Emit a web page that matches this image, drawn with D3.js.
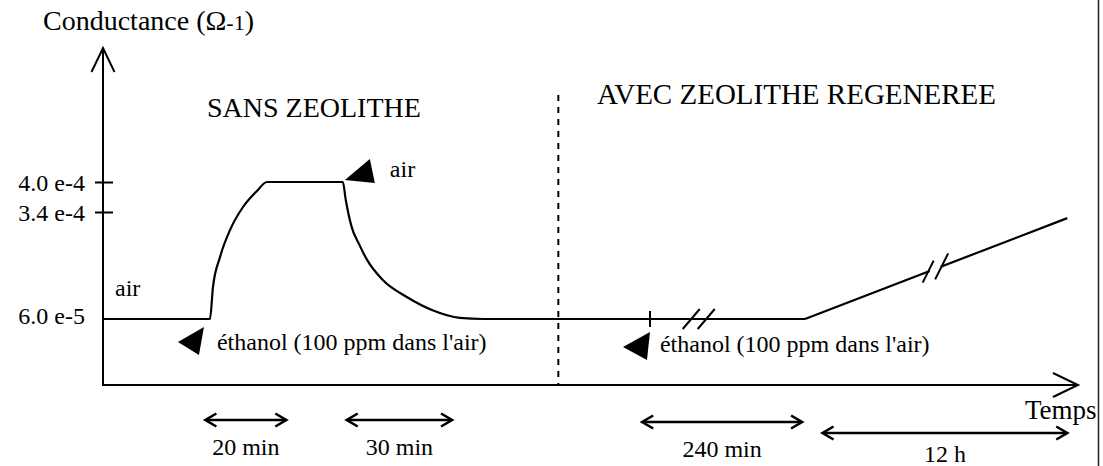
<!DOCTYPE html>
<html><head><meta charset="utf-8">
<script src="https://cdn.jsdelivr.net/npm/d3@7"></script>
<style>
html,body{margin:0;padding:0;background:#fff;}
svg{display:block;}
</style>
</head><body>
<svg id="c" width="1103" height="466"></svg>
<script>
// ---------- data ----------
// y ticks (conductance, ohm^-1)
const yTickValues = [4.0e-4, 3.4e-4, 6.0e-5];
const yTickLabels = ["4.0 e-4", "3.4 e-4", "6.0 e-5"];
// measured trace, schematic time units (0-100, axis has breaks)
const traceTime = [0, 10.97, 11.28, 12.0, 13.03, 14.36, 15.79, 16.82, 24.6, 24.9, 25.5, 26.3, 27.1, 28.7, 31.2, 33.8, 36.6, 39.0, 56.1, 72.0];
const traceG    = [6e-5, 6e-5, 1.44e-4, 2.22e-4, 2.93e-4, 3.5e-4, 3.82e-4, 4.0e-4, 4.0e-4, 3.64e-4, 3.01e-4, 2.54e-4, 2.14e-4, 1.62e-4, 1.17e-4, 0.83e-4, 0.63e-4, 6e-5, 6e-5, 6e-5];
// slow rise with regenerated zeolite
const rampTime = [72.0, 98.9];
const rampG    = [6e-5, 3.24e-4];
// events
const separatorTime = 46.7;          // sans / avec zeolithe
const ethanolTimes = [10.97, 56.1];  // ethanol injections
const airTime = 24.6;                // back to air
const breakFlatTime = 61.1;          // axis break on flat line
const breakRampTime = 85.3;          // axis break on ramp
// duration markers
const periodLabels = ["20 min", "30 min", "240 min", "12 h"];
const periodStart  = [10.5, 25.0, 55.3, 73.8];
const periodEnd    = [18.8, 35.8, 71.7, 98.9];

// ---------- scales ----------
const FONT = "'Liberation Serif', 'Times New Roman', Times, serif";
const svg = d3.select("#c");
const x = d3.scaleLinear().domain([0, 100]).range([103, 1078]);
// schematic (non-linear) conductance axis
const y = d3.scaleLinear().domain([0, 6e-5, 3.4e-4, 4e-4, 7e-4]).range([385, 319, 212, 182, 48]);

const ink = "#000";
const g = svg.append("g");
function txt(xx, yy, size, s) {
  return g.append("text").attr("x", xx).attr("y", yy)
    .style("font-family", FONT).style("font-size", size + "px").style("fill", ink).text(s);
}

// right scan border
g.append("line").attr("x1", 1098.5).attr("x2", 1098.5).attr("y1", 0).attr("y2", 466)
  .attr("stroke", "#222").attr("stroke-width", 1.5);

// ---------- axes ----------
const yAxis = d3.axisLeft(y).tickValues(yTickValues)
  .tickFormat((d, i) => yTickLabels[i]).tickSizeOuter(0).tickSizeInner(8).tickPadding(10);
const ya = g.append("g").attr("transform", `translate(${x(0)},0)`).call(yAxis);
ya.select(".domain").remove();
ya.selectAll(".tick line").attr("x1", 10).attr("stroke", ink).attr("stroke-width", 2)
  .filter(d => d === 6e-5).remove();
ya.selectAll(".tick text").style("font-family", FONT)
  .style("font-size", "24px").style("fill", ink)
  .attr("dy", d => d === 6e-5 ? "0.2em" : "0.34em");

// axis lines with open arrow heads
const x0 = x(0), yb = y(0), yt = y(7e-4), xr = x(100);
g.append("line").attr("x1", x0).attr("x2", x0).attr("y1", yb + 1).attr("y2", yt)
  .attr("stroke", ink).attr("stroke-width", 2);
g.append("path").attr("d", `M${x0 - 11.5},${yt + 24}L${x0},${yt}L${x0 + 11.5},${yt + 24}`)
  .attr("fill", "none").attr("stroke", ink).attr("stroke-width", 2);
g.append("line").attr("x1", x0).attr("x2", xr).attr("y1", yb).attr("y2", yb)
  .attr("stroke", ink).attr("stroke-width", 2.2);
g.append("path").attr("d", `M${xr - 25},${yb - 12}L${xr},${yb}L${xr - 25},${yb + 12}`)
  .attr("fill", "none").attr("stroke", ink).attr("stroke-width", 2);

// axis titles
const ct = txt(43, 30, 28, null);
ct.append("tspan").text("Conductance (\u03A9");
ct.append("tspan").style("font-size", "22px").text("-1");
ct.append("tspan").text(")");
txt(1025, 419, 27, "Temps");

// ---------- separator ----------
g.append("line").attr("x1", x(separatorTime)).attr("x2", x(separatorTime))
  .attr("y1", 95).attr("y2", yb).attr("stroke", ink).attr("stroke-width", 2)
  .attr("stroke-dasharray", "6,6");
txt(207, 117, 28, "SANS ZEOLITHE");
txt(597, 104, 29, "AVEC ZEOLITHE REGENEREE");

// ---------- trace ----------
const line = d3.line().x(d => x(d[0])).y(d => y(d[1])).curve(d3.curveMonotoneX);
g.append("path").datum(d3.zip(traceTime, traceG)).attr("d", line)
  .attr("fill", "none").attr("stroke", ink).attr("stroke-width", 2.2);
const ramp = d3.zip(rampTime, rampG);
g.append("path").datum(ramp).attr("d", d3.line().x(d => x(d[0])).y(d => y(d[1])))
  .attr("fill", "none").attr("stroke", ink).attr("stroke-width", 2.2);

// tick on flat line at second ethanol injection
g.append("line").attr("x1", x(ethanolTimes[1])).attr("x2", x(ethanolTimes[1]))
  .attr("y1", y(6e-5) - 8).attr("y2", y(6e-5) + 8).attr("stroke", ink).attr("stroke-width", 2);

// breaks
function slash(cx, cy, hx, hy) {
  g.append("line").attr("x1", cx - hx).attr("y1", cy + hy).attr("x2", cx + hx).attr("y2", cy - hy)
    .attr("stroke", ink).attr("stroke-width", 2);
}
const bfx = x(breakFlatTime), bfy = y(6e-5);
slash(bfx - 7.5, bfy, 8.5, 10);
slash(bfx + 7.5, bfy, 8.5, 10);
// ramp break (gap + slashes)
const rampAt = t => {
  const f = (t - rampTime[0]) / (rampTime[1] - rampTime[0]);
  return rampG[0] + f * (rampG[1] - rampG[0]);
};
const brx = x(breakRampTime);
const gx1 = brx - 5, gx2 = brx + 6;
g.append("line").attr("x1", gx1).attr("x2", gx2)
  .attr("y1", y(rampAt(x.invert(gx1)))).attr("y2", y(rampAt(x.invert(gx2))))
  .attr("stroke", "#fff").attr("stroke-width", 5);
slash(brx - 6.5, y(rampAt(x.invert(brx - 6.5))), 5.5, 11);
slash(brx + 7, y(rampAt(x.invert(brx + 7))), 6.5, 13);

// ---------- annotations ----------
function tri(tx, ty, pts) {
  g.append("path").attr("d", "M" + pts.map(p => [tx + p[0], ty + p[1]].join(",")).join("L") + "Z")
    .attr("fill", ink);
}
const e1x = x(ethanolTimes[0]), e1y = y(6e-5);
tri(e1x - 32, e1y + 23, [[0, 0], [26, -15], [21, 13]]);
txt(e1x + 7, e1y + 31, 24, "éthanol (100 ppm dans l'air)");
const e2x = x(ethanolTimes[1]), e2y = y(6e-5);
tri(e2x - 27, e2y + 28, [[0, 0], [27, -15], [24, 13]]);
txt(e2x + 10, e2y + 33, 24, "éthanol (100 ppm dans l'air)");
const ax = x(airTime), ay = y(4e-4);
tri(ax + 2, ay - 2, [[0, 0], [25, -21], [30, 3]]);
txt(ax + 47, ay - 5, 24, "air");
txt(x(0) + 12, y(6e-5) - 23, 24, "air");

// ---------- duration markers ----------
const periodRow = [420, 420, 422, 433];
const labelRow = [455, 455, 457, 462];
periodLabels.forEach((lab, i) => {
  const a = x(periodStart[i]), b = x(periodEnd[i]), yy = periodRow[i];
  g.append("line").attr("x1", a + 1).attr("x2", b - 1).attr("y1", yy).attr("y2", yy)
    .attr("stroke", ink).attr("stroke-width", 2.4);
  g.append("path").attr("d", `M${a + 11},${yy - 6.5}L${a},${yy}L${a + 11},${yy + 6.5}M${b - 11},${yy - 6.5}L${b},${yy}L${b - 11},${yy + 6.5}`)
    .attr("fill", "none").attr("stroke", ink).attr("stroke-width", 2.6);
  txt((a + b) / 2, labelRow[i], 24, lab).attr("text-anchor", "middle");
});
</script>
</body></html>
